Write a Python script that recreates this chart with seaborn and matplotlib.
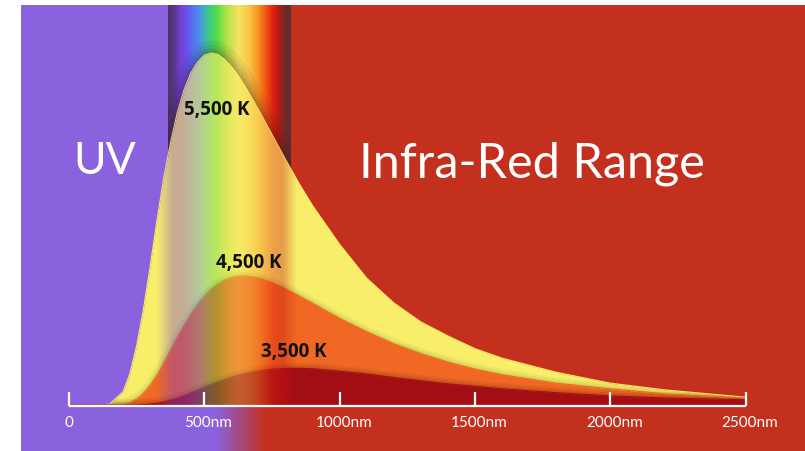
import numpy as np
import pandas as pd
import seaborn as sns
import matplotlib.pyplot as plt
from matplotlib.patches import Rectangle

# Relative spectral radiance (5,500 K peak = 100)
wavelength_nm = [0, 100, 150, 200, 225, 250, 275, 300, 325, 350, 375, 400, 425, 450, 475,
                 500, 525, 550, 575, 600, 625, 650, 700, 750, 800, 850, 900, 1000, 1100,
                 1200, 1300, 1400, 1500, 1600, 1800, 2000, 2200, 2500]
k5500 = [0, 0, 0.2, 3.8, 8.9, 16.9, 27.2, 39.5, 52.5, 64.5, 74.5, 83.0, 89.5, 94.3, 97.4,
         99.4, 100.0, 99.6, 98.2, 96.2, 93.6, 90.6, 83.9, 76.8, 69.7, 62.9, 56.6, 45.6, 36.0,
         29.0, 23.6, 19.6, 16.0, 13.3, 9.3, 6.2, 4.3, 2.2]
k4500 = [0, 0, 0, 0.2, 0.7, 1.7, 3.3, 5.6, 8.5, 11.9, 15.5, 19.1, 22.5, 25.7, 28.6,
         30.9, 32.9, 34.4, 35.5, 36.2, 36.6, 36.7, 36.1, 34.8, 33.0, 31.0, 28.9, 24.6, 20.8,
         17.4, 14.6, 12.2, 10.2, 8.6, 6.2, 4.6, 3.2, 2.0]
k3500 = [0, 0, 0, 0, 0, 0, 0.1, 0.3, 0.5, 0.9, 1.4, 1.9, 2.6, 3.4, 4.2,
         5.0, 5.8, 6.5, 7.2, 7.9, 8.4, 8.9, 9.7, 10.2, 10.4, 10.4, 10.3, 9.6, 8.8,
         7.8, 6.9, 6.0, 5.3, 4.6, 3.5, 2.6, 2.0, 1.5]
temperatures = ["5,500 K", "4,500 K", "3,500 K"]
tick_nm = [0, 500, 1000, 1500, 2000, 2500]
tick_labels = ["0", "500nm", "1000nm", "1500nm", "2000nm", "2500nm"]

# pixel <-> data helpers for the full-bleed axes
W, H = 805, 451
PX0, PX_PER_NM = 69, 0.2707
PY0, PY_PER_UNIT = 405, 3.52


def nx(px):
    return (px - PX0) / PX_PER_NM


def ny(py):
    return (PY0 - py) / PY_PER_UNIT


sns.set_theme(style="white")
fig = plt.figure(figsize=(8.05, 4.51), dpi=100)
fig.patch.set_facecolor("white")
ax = fig.add_axes([0, 0, 1, 1])
ax.axis("off")

purple = np.array([138, 98, 221]) / 255
red = np.array([196, 48, 30]) / 255

# spectrum band colours (column anchors in px)
band_px = [168, 174, 180, 188, 198, 207, 216, 227, 238, 248, 258, 266, 273, 280, 286, 291]
band_rgb = [(78, 52, 98), (88, 56, 140), (118, 62, 215), (100, 90, 240), (75, 140, 235),
            (60, 195, 150), (80, 220, 70), (185, 225, 70), (245, 225, 100), (248, 200, 70),
            (248, 145, 35), (240, 80, 20), (220, 30, 15), (160, 30, 25), (100, 45, 45),
            (95, 45, 45)]

bg = np.ones((H, W, 3))
bg[5:, 21:] = red
bg[5:, 21:168] = purple
cols = np.arange(168, 291)
spec = np.stack([np.interp(cols, band_px, [c[i] for c in band_rgb]) for i in range(3)], axis=1) / 255
bg[5:406, 168:291] = spec[None, :, :]
t = np.clip((cols - 215) / 50, 0, 1)
bg[406:, 168:291] = (purple[None, :] * (1 - t[:, None]) + red[None, :] * t[:, None])[None]
ax.imshow(bg, extent=(nx(0), nx(W), ny(H), ny(0)), aspect="auto",
          interpolation="nearest", zorder=0)

band_clip = Rectangle((nx(168), ny(405)), nx(291) - nx(168), ny(5) - ny(405),
                      transform=ax.transData, facecolor="none")

yellow, orange, dark_red = "#f8ee6a", "#f06824", "#a30e14"

# 5,500 K: soft shadow inside the spectrum band, then fill
for w, a in [(18, 0.06), (12, 0.08), (7, 0.10), (3, 0.12)]:
    ln, = ax.plot(wavelength_nm, k5500, color="#2a1010", lw=w, alpha=a, zorder=1)
    ln.set_clip_path(band_clip)
fill_5500 = ax.fill_between(wavelength_nm, 0, k5500, color=yellow, lw=0, zorder=2)
clip_path = fill_5500.get_paths()[0]

for w, a in [(8, 0.08), (5, 0.10), (2.5, 0.12)]:
    ln, = ax.plot(wavelength_nm, k4500, color="#6f8a20", lw=w, alpha=a, zorder=3)
    ln.set_clip_path(clip_path, ax.transData)
ax.fill_between(wavelength_nm, 0, k4500, color=orange, lw=0, zorder=4)

for w, a in [(8, 0.08), (5, 0.10), (2.5, 0.12)]:
    ln, = ax.plot(wavelength_nm, k3500, color="#5a1a08", lw=w, alpha=a, zorder=5)
    ln.set_clip_path(clip_path, ax.transData)
ax.fill_between(wavelength_nm, 0, k3500, color=dark_red, lw=0, zorder=6)

# curve edges through seaborn
df = pd.DataFrame({
    "Wavelength (nm)": wavelength_nm * 3,
    "Intensity": k5500 + k4500 + k3500,
    "Temperature": [t for t in temperatures for _ in wavelength_nm],
})
sns.lineplot(data=df, x="Wavelength (nm)", y="Intensity", hue="Temperature",
             palette=[yellow, orange, dark_red], lw=0.8, legend=False, ax=ax, zorder=6.5)

# rainbow tint showing through the filled curves
ov_px = [150, 180, 188, 198, 207, 216, 227, 238, 248, 258, 266, 273, 282, 300]
ov_rgb = [(120, 70, 220), (118, 62, 215), (100, 90, 240), (75, 140, 235), (60, 195, 150),
          (80, 220, 70), (185, 225, 70), (245, 225, 100), (248, 200, 70), (248, 145, 35),
          (240, 80, 20), (220, 30, 15), (200, 20, 20), (200, 20, 20)]
allc = np.arange(W)
ov = np.zeros((2, W, 4))
for i in range(3):
    ov[:, :, i] = np.interp(allc, ov_px, [c[i] for c in ov_rgb]) / 255
ov[:, :, 3] = np.interp(allc, [156, 172, 282, 296], [0, 0.38, 0.38, 0])
im = ax.imshow(ov, extent=(nx(0), nx(W), ny(H), ny(0)), aspect="auto",
               interpolation="bilinear", zorder=7)
im.set_clip_path(clip_path, ax.transData)

# white axis with upward ticks
ax.plot([0, 2500], [ny(405.5), ny(405.5)], color="white", lw=1.6, zorder=8,
        solid_capstyle="butt")
ax.vlines(tick_nm, ny(406), ny(392), color="white", lw=1.6, zorder=8)
for nm, lab in zip(tick_nm, tick_labels):
    off = 0 if nm == 0 else 15
    ax.text(nm + off, ny(427), lab, color="white", fontsize=11, family=["Lato", "DejaVu Sans"],
            ha="center", va="baseline", zorder=9)

ax.text(nx(105), ny(174), "UV", color="white", fontsize=32,
        family=["Lato", "DejaVu Sans"], ha="center", va="baseline", zorder=9)
ax.text(nx(531.5), ny(177), "Infra-Red Range", color="white", fontsize=35,
        family=["Lato", "DejaVu Sans"], ha="center", va="baseline", zorder=9)

for lab, cx, base in zip(temperatures, [217, 249, 293.5], [115, 268, 357]):
    ax.text(nx(cx), ny(base), lab, color="#111111", fontsize=13.5, weight="bold",
            family=["Open Sans", "DejaVu Sans"], ha="center", va="baseline", zorder=9)

ax.set_xlim(nx(0), nx(W))
ax.set_ylim(ny(H), ny(0))
fig.savefig("out.png", dpi=100)
plt.close(fig)
